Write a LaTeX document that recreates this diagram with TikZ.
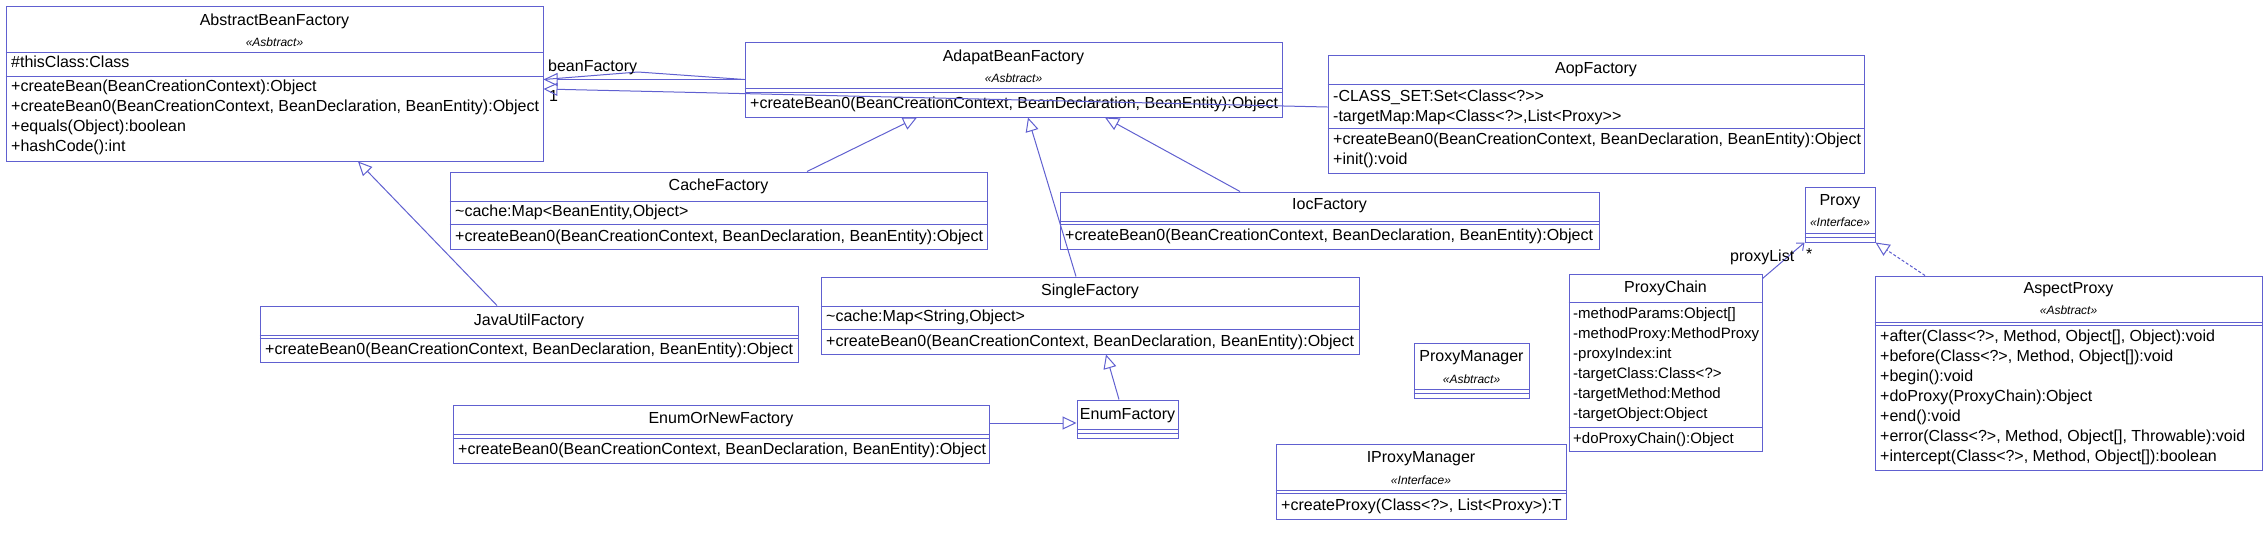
\documentclass[tikz,border=0pt]{standalone}
\usepackage{fontspec}
\setmainfont{Liberation Sans}
\usetikzlibrary{arrows.meta,fit}
\definecolor{umlblue}{RGB}{96,96,208}
\tikzset{
  box/.style={draw=umlblue, line width=1pt, inner sep=0pt},
  sep/.style={draw=umlblue, line width=1pt},
  title/.style={inner sep=0pt, font=\fontsize{16}{20}\selectfont},
  stereo/.style={inner sep=0pt, font=\fontsize{12}{14}\selectfont\itshape},
  member/.style={anchor=west, inner sep=0pt, text height=11pt, text depth=3pt,
    font=\fontsize{16}{20}\selectfont},
  small member/.style={member, font=\fontsize{15}{18}\selectfont},
  gen/.style={draw=umlblue, line width=1pt, -{Triangle[open, length=14pt, width=13pt]}},
  real/.style={gen, dash pattern=on 3pt off 2pt},
  assoc/.style={draw=umlblue, line width=1pt},
}
\begin{document}
\begin{tikzpicture}[x=1pt, y=-1pt]
\useasboundingbox (0,0) rectangle (2267,542);

% AbstractBeanFactory
\node[box, fit={(6,6) (543,161)}] (abf) {};
\node[title] (abf-t) at (abf.north |- 0,21) {AbstractBeanFactory};
\node[stereo] (abf-s) at (abf.north |- 0,42) {«Asbtract»};
\draw[sep] (abf.west |- 0,52) -- (abf.east |- 0,52);
\draw[sep] (abf.west |- 0,76) -- (abf.east |- 0,76);
\node[member] (abf-a) at (11,63) {\#thisClass:Class};
\foreach \m [count=\i from 0] in {{+createBean(BeanCreationContext):Object},
    {+createBean0(BeanCreationContext, BeanDeclaration, BeanEntity):Object},
    {+equals(Object):boolean}, {+hashCode():int}}
  \node[member] (abf-m\i) at (11,87+20*\i) {\m};

% AdapatBeanFactory
\node[box, fit={(745,42) (1282,117)}] (adapt) {};
\node[title] (adapt-t) at (adapt.north |- 0,57) {AdapatBeanFactory};
\node[stereo] (adapt-s) at (adapt.north |- 0,78) {«Asbtract»};
\draw[sep] (adapt.west |- 0,88) -- (adapt.east |- 0,88);
\draw[sep] (adapt.west |- 0,92) -- (adapt.east |- 0,92);
\node[member] (adapt-m) at (750,104) {+createBean0(BeanCreationContext, BeanDeclaration, BeanEntity):Object};

% AopFactory
\node[box, fit={(1328,55) (1864,173)}] (aop) {};
\node[title] (aop-t) at (aop.north |- 0,70) {AopFactory};
\draw[sep] (aop.west |- 0,84) -- (aop.east |- 0,84);
\draw[sep] (aop.west |- 0,128) -- (aop.east |- 0,128);
\node[member] (aop-a0) at (1333,97) {-CLASS\_SET:Set<Class<?>{}>};
\node[member] (aop-a1) at (1333,117) {-targetMap:Map<Class<?>,List<Proxy>{}>};
\node[member] (aop-m0) at (1333,140) {+createBean0(BeanCreationContext, BeanDeclaration, BeanEntity):Object};
\node[member] (aop-m1) at (1333,160) {+init():void};

% CacheFactory
\node[box, fit={(450,172) (987,249)}] (cache) {};
\node[title] (cache-t) at (cache.north |- 0,186) {CacheFactory};
\draw[sep] (cache.west |- 0,201) -- (cache.east |- 0,201);
\draw[sep] (cache.west |- 0,224) -- (cache.east |- 0,224);
\node[member] (cache-a) at (455,212) {\textasciitilde cache:Map<BeanEntity,Object>};
\node[member] (cache-m) at (455,237) {+createBean0(BeanCreationContext, BeanDeclaration, BeanEntity):Object};

% IocFactory
\node[box, fit={(1060,192) (1599,249)}] (ioc) {};
\node[title] (ioc-t) at (ioc.north |- 0,206) {IocFactory};
\draw[sep] (ioc.west |- 0,221) -- (ioc.east |- 0,221);
\draw[sep] (ioc.west |- 0,224) -- (ioc.east |- 0,224);
\node[member] (ioc-m) at (1065,236) {+createBean0(BeanCreationContext, BeanDeclaration, BeanEntity):Object};

% JavaUtilFactory
\node[box, fit={(260,306) (798,362)}] (java) {};
\node[title] (java-t) at (java.north |- 0,321) {JavaUtilFactory};
\draw[sep] (java.west |- 0,335) -- (java.east |- 0,335);
\draw[sep] (java.west |- 0,338) -- (java.east |- 0,338);
\node[member] (java-m) at (265,350) {+createBean0(BeanCreationContext, BeanDeclaration, BeanEntity):Object};

% SingleFactory
\node[box, fit={(821,277) (1359,354)}] (single) {};
\node[title] (single-t) at (single.north |- 0,291) {SingleFactory};
\draw[sep] (single.west |- 0,306) -- (single.east |- 0,306);
\draw[sep] (single.west |- 0,329) -- (single.east |- 0,329);
\node[member] (single-a) at (826,317) {\textasciitilde cache:Map<String,Object>};
\node[member] (single-m) at (826,342) {+createBean0(BeanCreationContext, BeanDeclaration, BeanEntity):Object};

% EnumFactory
\node[box, fit={(1077,400) (1178,438)}] (enumf) {};
\node[title] (enumf-t) at (enumf.north |- 0,416) {EnumFactory};
\draw[sep] (enumf.west |- 0,429) -- (enumf.east |- 0,429);
\draw[sep] (enumf.west |- 0,433) -- (enumf.east |- 0,433);

% EnumOrNewFactory
\node[box, fit={(453,405) (989,463)}] (enon) {};
\node[title] (enon-t) at (enon.north |- 0,420) {EnumOrNewFactory};
\draw[sep] (enon.west |- 0,434) -- (enon.east |- 0,434);
\draw[sep] (enon.west |- 0,438) -- (enon.east |- 0,438);
\node[member] (enon-m) at (458,450) {+createBean0(BeanCreationContext, BeanDeclaration, BeanEntity):Object};

% Proxy
\node[box, fit={(1805,187) (1875,242)}] (proxy) {};
\node[title] (proxy-t) at (proxy.north |- 0,202) {Proxy};
\node[stereo] (proxy-s) at (proxy.north |- 0,222) {«Interface»};
\draw[sep] (proxy.west |- 0,233) -- (proxy.east |- 0,233);
\draw[sep] (proxy.west |- 0,237) -- (proxy.east |- 0,237);

% ProxyChain
\node[box, fit={(1569,274) (1762,451)}] (chain) {};
\node[title] (chain-t) at (chain.north |- 0,288) {ProxyChain};
\draw[sep] (chain.west |- 0,302) -- (chain.east |- 0,302);
\draw[sep] (chain.west |- 0,427) -- (chain.east |- 0,427);
\foreach \m [count=\i from 0] in {{-methodParams:Object[]}, {-methodProxy:MethodProxy},
    {-proxyIndex:int}, {-targetClass:Class<?>}, {-targetMethod:Method},
    {-targetObject:Object}}
  \node[small member] (chain-a\i) at (1573,314+20*\i) {\m};
\node[small member] (chain-m) at (1573,439) {+doProxyChain():Object};

% ProxyManager
\node[box, fit={(1414,343) (1529,398)}] (pmgr) {};
\node[title] (pmgr-t) at (pmgr.north |- 0,358) {ProxyManager};
\node[stereo] (pmgr-s) at (pmgr.north |- 0,379) {«Asbtract»};
\draw[sep] (pmgr.west |- 0,389) -- (pmgr.east |- 0,389);
\draw[sep] (pmgr.west |- 0,393) -- (pmgr.east |- 0,393);

% IProxyManager
\node[box, fit={(1276,444) (1566,519)}] (ipmgr) {};
\node[title] (ipmgr-t) at (ipmgr.north |- 0,459) {IProxyManager};
\node[stereo] (ipmgr-s) at (ipmgr.north |- 0,480) {«Interface»};
\draw[sep] (ipmgr.west |- 0,490) -- (ipmgr.east |- 0,490);
\draw[sep] (ipmgr.west |- 0,493) -- (ipmgr.east |- 0,493);
\node[member] (ipmgr-m) at (1281,506) {+createProxy(Class<?>, List<Proxy>):T};

% AspectProxy
\node[box, fit={(1875,276) (2262,470)}] (aspect) {};
\node[title] (aspect-t) at (aspect.north |- 0,290) {AspectProxy};
\node[stereo] (aspect-s) at (aspect.north |- 0,310) {«Asbtract»};
\draw[sep] (aspect.west |- 0,322) -- (aspect.east |- 0,322);
\draw[sep] (aspect.west |- 0,325) -- (aspect.east |- 0,325);
\foreach \m [count=\i from 0] in {{+after(Class<?>, Method, Object[], Object):void},
    {+before(Class<?>, Method, Object[]):void}, {+begin():void},
    {+doProxy(ProxyChain):Object}, {+end():void},
    {+error(Class<?>, Method, Object[], Throwable):void},
    {+intercept(Class<?>, Method, Object[]):boolean}}
  \node[member] (aspect-m\i) at (1880,337+20*\i) {\m};

% connectors
\draw[gen] (adapt.west) -- (abf.east |- adapt.west);
\draw[assoc] (adapt.west) -- (638,72) -- (abf.east |- adapt.west);
\node[member] (bf-role) at (548,67) {beanFactory};
\node[member] (bf-mult) at (549,97) {1};
\draw[gen] (aop.west |- 0,107) -- (abf.east |- 0,89);
\draw[gen] (cache.north -| 807,0) -- (adapt.south -| 917,0);
\draw[gen] (java.north -| 497,0) -- (abf.south -| 358,0);
\draw[gen] (single.north -| 1076,0) -- (adapt.south -| 1028,0);
\draw[gen] (ioc.north -| 1240,0) -- (adapt.south -| 1105,0);
\draw[gen] (enon.east |- 0,423) -- (enumf.west |- 0,423);
\draw[gen] (enumf.north -| 1119,0) -- (single.south -| 1106,0);
\draw[real] (aspect.north -| 1925,0) -- (proxy.south east);
\draw[assoc, -{Straight Barb[length=6pt, width=10pt]}] ([yshift=-5pt]chain.north east) -- (proxy.south west);
\node[member] (pl-role) at (1730,257) {proxyList};
\node[member] (pl-mult) at (1806,255) {*};
\end{tikzpicture}
\end{document}
